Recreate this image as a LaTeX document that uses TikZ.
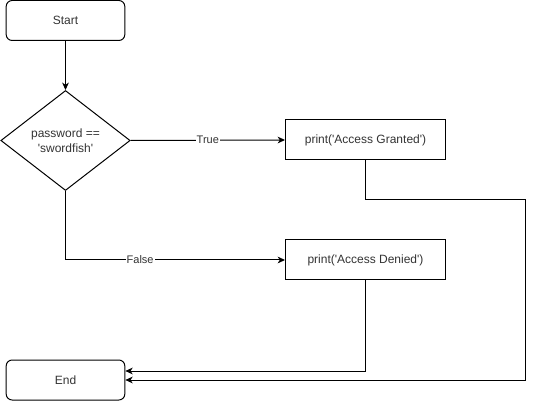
\documentclass[tikz,border=0pt]{standalone}
\usepackage{fontspec}
\setmainfont[Ligatures=TeXOff]{Liberation Sans}
\usetikzlibrary{shapes.geometric,arrows.meta}
\begin{document}
\begin{tikzpicture}[x=0.75pt,y=-0.75pt,
  base/.style={draw=black,line width=0.75pt,font=\fontsize{9}{11}\selectfont,
    text=black!80,align=center,inner sep=0pt},
  term/.style={base,rounded corners=4.5pt,minimum width=89pt,minimum height=30pt},
  proc/.style={base,minimum width=120pt,minimum height=30pt},
  decision/.style={base,diamond,minimum width=97pt,minimum height=75pt},
  flow/.style={draw=black,line width=0.75pt,-{Stealth[length=5.5pt,width=5pt,inset=1.6pt]}},
  lbl/.style={fill=white,inner sep=0.8pt,font=\fontsize{8.25}{10}\selectfont,text=black!80}
]
\useasboundingbox (0,0) rectangle (535,402);

% flowchart nodes
\node[term] (start) at (65.5,20.5) {Start};
\node[decision] (cond) at (65.5,140.5) {password ==\\'swordfish'};
\node[proc] (grant) at (365.5,140) {print('Access Granted')};
\node[proc] (deny) at (365.5,260) {print('Access Denied')};
\node[term] (end) at (65.5,380) {End};

% turning point of the long return path
\coordinate (gturn) at (525,199.5);

% connectors
\draw[flow] (start) -- (cond);
\draw[flow] (cond.east) -- node[lbl] {True} (grant.west);
\draw[flow] (cond.south) |- node[lbl,pos=0.67] {False} (deny.west);
\draw[flow] (grant.south) |- (gturn) |- (end.east);
\draw[flow] (deny.south) |- ([yshift=6.75pt]end.east);
\end{tikzpicture}
\end{document}
